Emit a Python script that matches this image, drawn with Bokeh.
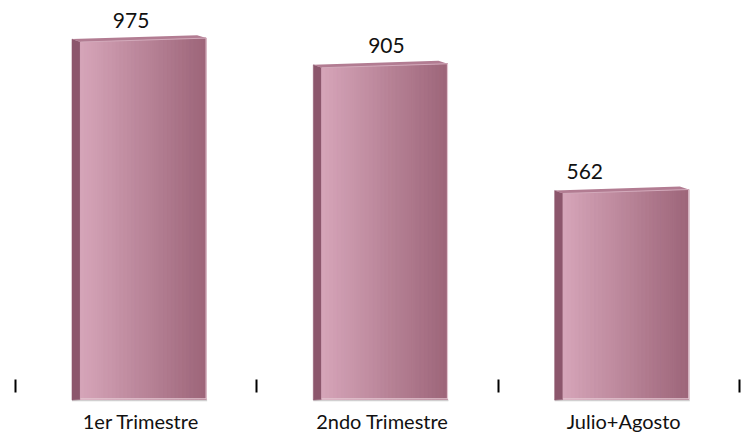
import numpy as np
from bokeh.plotting import figure
from bokeh.models import Range1d, FixedTicker, ColumnDataSource
from bokeh.core.properties import value
from bokeh.embed import file_html
from bokeh.resources import INLINE

# --- data -------------------------------------------------------------
categories = ["1er Trimestre", "2ndo Trimestre", "Julio+Agosto"]
totals = [975, 905, 562]

# --- layout / style ---------------------------------------------------
W, H = 750, 435
X0, X1 = -0.5, 2.5
Y0, Y1 = -5.4, 1088.4
PX_X = (X1 - X0) / (W - 15 - 11)     # data units per pixel (x)
PX_Y = (Y1 - Y0) / (H - 30)          # data units per pixel (y)

SIDE_L = -0.266      # left edge of the bevelled side face
FRONT_L = -0.231     # left edge of the front face
RIGHT = 0.290        # right edge of the front face
SLANT = 4 * PX_Y     # perspective rise of the top edge across the bar
DEPTH_X = 9 * PX_X   # depth offset of the back edge
DEPTH_Y = 3 * PX_Y

FRONT_LEFT_RGB = np.array([214, 165, 185])
FRONT_RIGHT_RGB = np.array([157, 101, 121])
SIDE_COLOR = "#8c566c"
TOP_COLOR = "#b27c92"
EDGE_LIGHT = "#e3c6d1"
N_STRIPS = 32

label_nudge_px = [-8, 6, -37]      # horizontal nudge of the value labels
tick_shift = 0.02                  # category labels sit under the front faces

p = figure(width=W, height=H, output_backend="svg", toolbar_location=None,
           x_range=Range1d(X0, X1), y_range=Range1d(Y0, Y1),
           min_border_left=15, min_border_right=11,
           min_border_top=0, min_border_bottom=30,
           y_axis_location=None, background_fill_color="white",
           border_fill_color="white")
p.outline_line_color = None
p.xgrid.visible = False
p.ygrid.visible = False


def hex_rgb(c):
    c = np.clip(np.round(c), 0, 255).astype(int)
    return "#%02x%02x%02x" % tuple(c)


def top_at(x, v):
    """Height of the slanted front top edge at relative position x."""
    return v + SLANT * (x - FRONT_L) / (RIGHT - FRONT_L)


for i, v in enumerate(totals):
    # soft shadow under the bar
    p.line([i + SIDE_L, i + RIGHT + 0.004], [-1.0 * PX_Y, -1.0 * PX_Y],
           line_color="#7a7a7a", line_alpha=0.35, line_width=2)

    # left side face
    p.patch([i + SIDE_L, i + FRONT_L, i + FRONT_L, i + SIDE_L],
            [-0.6 * PX_Y, 0, v, v + DEPTH_Y],
            fill_color=SIDE_COLOR, line_color=SIDE_COLOR, line_width=0.5)

    # front face, shaded left-to-right in narrow strips
    edges = np.linspace(FRONT_L, RIGHT, N_STRIPS + 1)
    xs, ys, cols = [], [], []
    for k in range(N_STRIPS):
        a, b = edges[k], edges[k + 1]
        t = (k + 0.5) / N_STRIPS
        cols.append(hex_rgb(FRONT_LEFT_RGB + (FRONT_RIGHT_RGB - FRONT_LEFT_RGB) * t))
        xs.append([i + a, i + b, i + b, i + a])
        ys.append([0, 0, top_at(b, v), top_at(a, v)])
    p.patches(xs, ys, fill_color=cols, line_color=cols, line_width=1)

    # light rim on the right and bottom edges of the front face
    p.line([i + FRONT_L, i + RIGHT, i + RIGHT],
           [0.6 * PX_Y, 0.6 * PX_Y, top_at(RIGHT, v)],
           line_color=EDGE_LIGHT, line_width=1.2)

    # top face
    p.patch([i + SIDE_L, i + RIGHT - DEPTH_X, i + RIGHT, i + FRONT_L],
            [v + DEPTH_Y, top_at(RIGHT, v) + DEPTH_Y, top_at(RIGHT, v), v],
            fill_color=TOP_COLOR, line_color=None)
    p.line([i + FRONT_L, i + RIGHT], [v, top_at(RIGHT, v)],
           line_color="#d3aabb", line_width=1)

# value labels above the bars
bar_mid = (SIDE_L + RIGHT) / 2
lab = ColumnDataSource(dict(
    x=[i + bar_mid + n * PX_X for i, n in enumerate(label_nudge_px)],
    y=totals,
    t=[str(v) for v in totals],
))
p.text(x="x", y="y", text="t", source=lab, text_align="center",
       text_baseline="alphabetic", y_offset=-22,
       text_font=value("Lato"), text_font_size="21px", text_color="#111111")

# category axis: labels under each bar, short ticks between categories
tick_pos = [i + tick_shift for i in range(len(categories))]
ax = p.xaxis[0]
ax.ticker = FixedTicker(ticks=tick_pos, minor_ticks=[-0.5, 0.5, 1.5, 2.5])
ax.major_label_overrides = {t: c for t, c in zip(tick_pos, categories)}
ax.axis_line_color = None
ax.major_tick_in = 0
ax.major_tick_out = 0
ax.minor_tick_in = 22
ax.minor_tick_out = -9
ax.minor_tick_line_color = "black"
ax.minor_tick_line_width = 2
ax.major_label_standoff = 7
ax.major_label_text_font = "Lato"
ax.major_label_text_font_size = "20px"
ax.major_label_text_color = "#111111"

open("out.html", "w").write(file_html(p, INLINE))
